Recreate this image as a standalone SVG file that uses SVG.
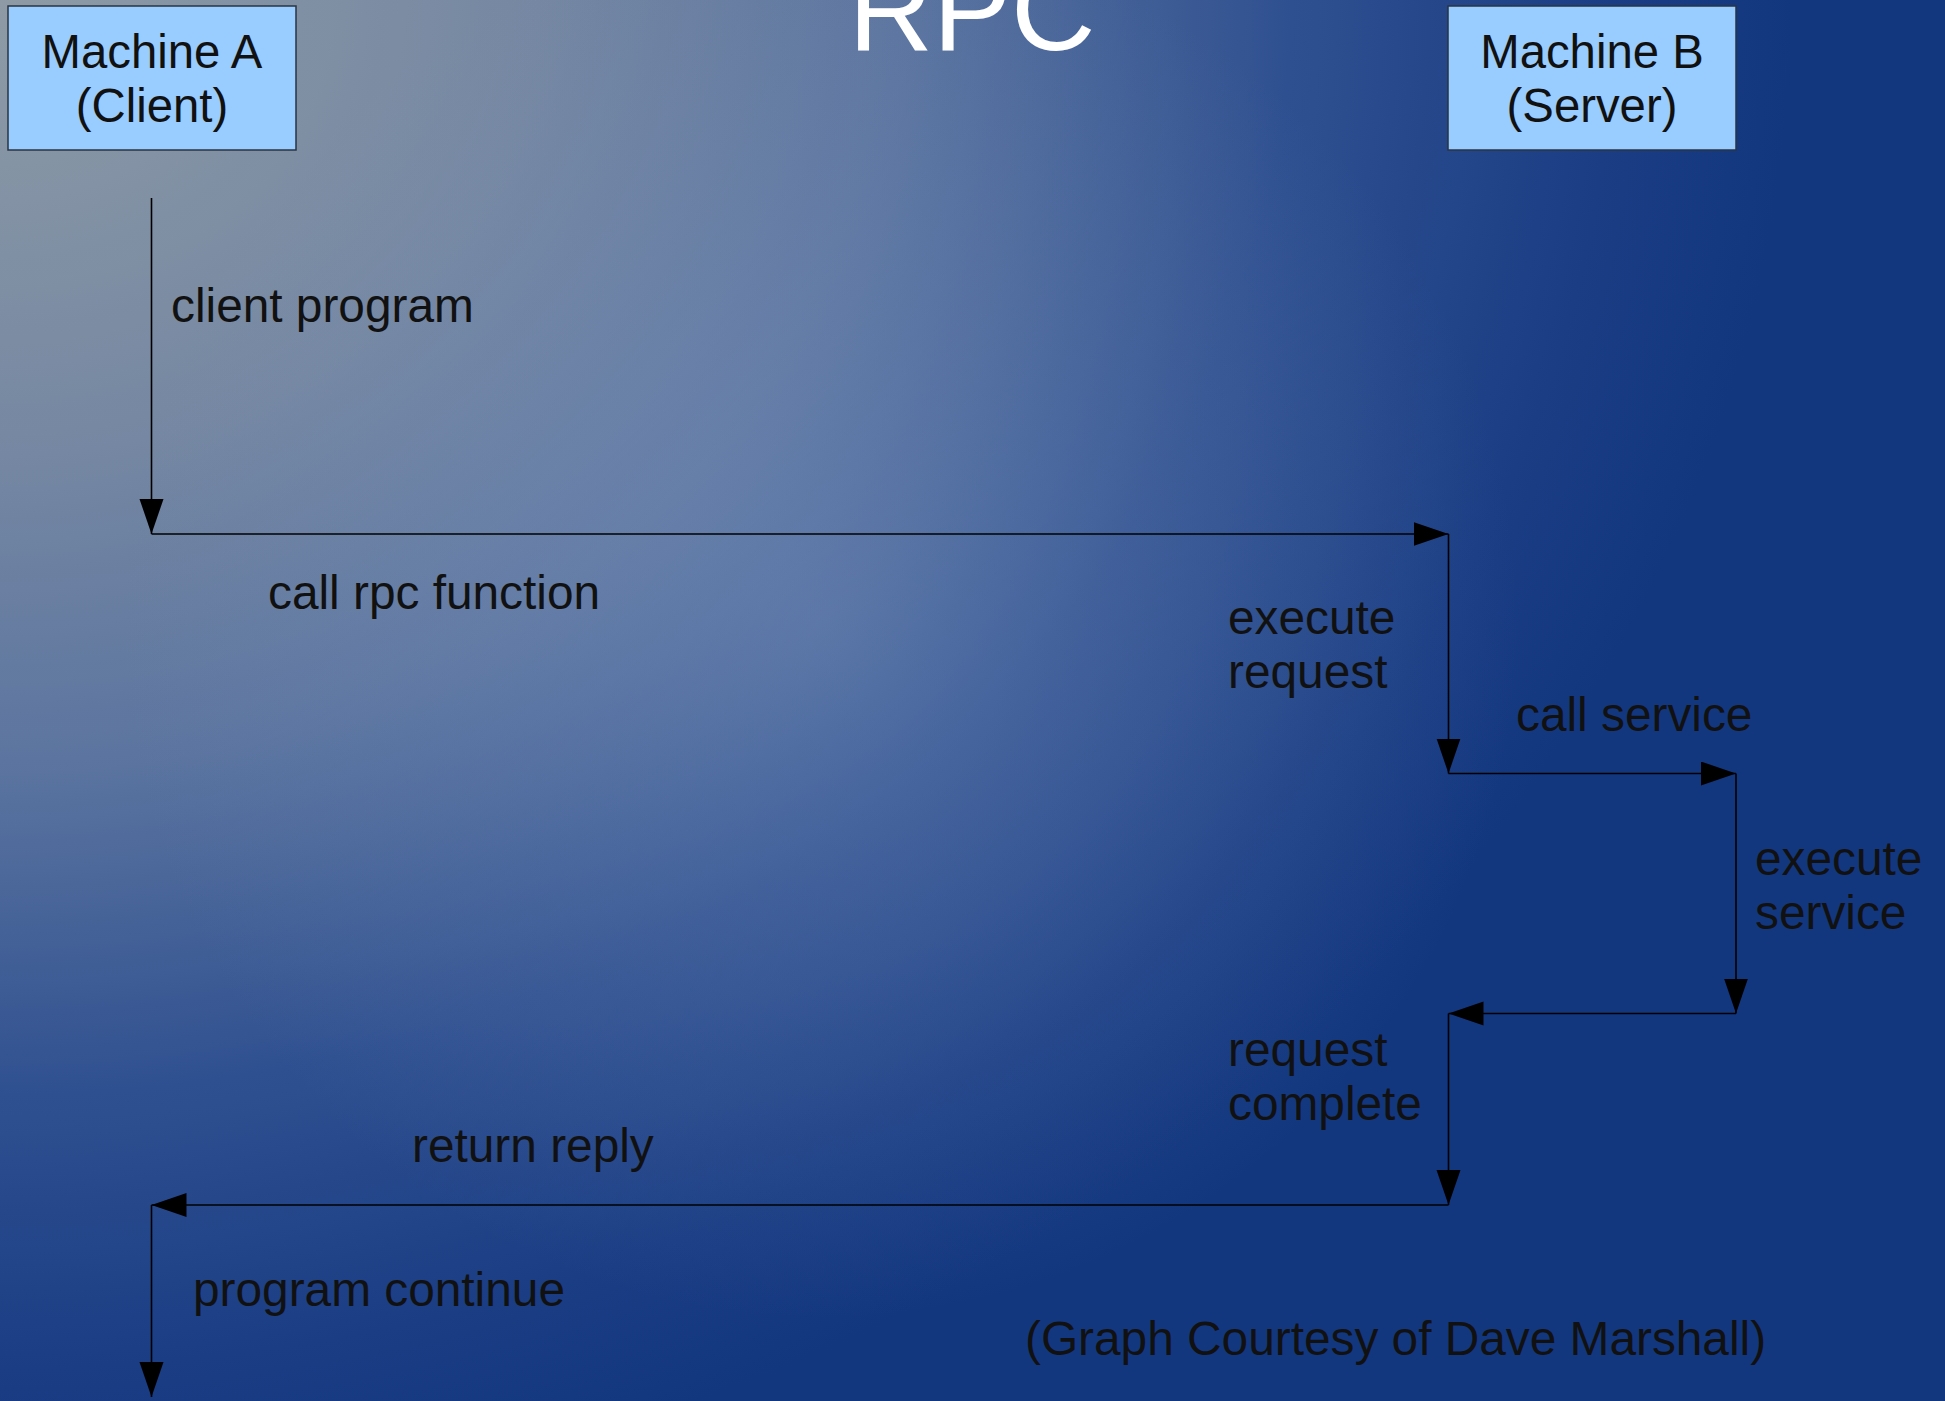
<svg xmlns="http://www.w3.org/2000/svg" width="1945" height="1401" viewBox="0 0 1945 1401">
<style>
.lbl{font-family:"Liberation Sans",Arial,sans-serif;font-size:47.8px;fill:#111111}
.nm{font-family:"Liberation Sans",Arial,sans-serif;font-size:47.3px;fill:#111111}
.box{fill:#99ccff;stroke:#2a3440;stroke-width:1.5}
.ln{fill:none;stroke:#000000;stroke-width:1.6}
.ttl{font-family:"Liberation Sans",Arial,sans-serif;font-size:117px;fill:#ffffff}
</style>
<defs>
<radialGradient id="bg" gradientUnits="userSpaceOnUse" cx="0" cy="0" r="1600" gradientTransform="scale(1.12 0.95)">
<stop offset="0" stop-color="#8e9ba6"/>
<stop offset="0.3" stop-color="#7587a2"/>
<stop offset="0.5" stop-color="#5c75a0"/>
<stop offset="0.72" stop-color="#2f5090"/>
<stop offset="0.9" stop-color="#1a3d84"/>
<stop offset="1" stop-color="#13377f"/>
</radialGradient>
<radialGradient id="glow" gradientUnits="userSpaceOnUse" cx="820" cy="620" r="700">
<stop offset="0" stop-color="#7f98c0" stop-opacity="0.4"/>
<stop offset="0.6" stop-color="#7f98c0" stop-opacity="0.15"/>
<stop offset="1" stop-color="#7f98c0" stop-opacity="0"/>
</radialGradient>
<marker id="ah" markerUnits="userSpaceOnUse" markerWidth="38" markerHeight="26" refX="35" refY="12" orient="auto">
<path d="M0,0 L35,12 L0,24 Z" fill="#000000"/>
</marker>
</defs>
<rect x="0" y="0" width="1945" height="1401" fill="url(#bg)"/>
<rect x="0" y="0" width="1945" height="1401" fill="url(#glow)"/>
<text class="ttl" x="972" y="50" text-anchor="middle">RPC</text>
<g id="machineA">
<rect class="box" x="8" y="6" width="288" height="144"/>
<text class="nm" x="152" y="68" text-anchor="middle">Machine A</text>
<text class="nm" x="152" y="122" text-anchor="middle">(Client)</text>
</g>
<g id="machineB">
<rect class="box" x="1448" y="6" width="288" height="144"/>
<text class="nm" x="1592" y="68" text-anchor="middle">Machine B</text>
<text class="nm" x="1592" y="122" text-anchor="middle">(Server)</text>
</g>
<g id="connectors">
<line class="ln" x1="151.5" y1="198" x2="151.5" y2="534" marker-end="url(#ah)"/>
<line class="ln" x1="151.5" y1="534" x2="1448.5" y2="534" marker-end="url(#ah)"/>
<line class="ln" x1="1448.5" y1="534" x2="1448.5" y2="773.5" marker-end="url(#ah)"/>
<line class="ln" x1="1448.5" y1="773.5" x2="1736" y2="773.5" marker-end="url(#ah)"/>
<line class="ln" x1="1736" y1="773.5" x2="1736" y2="1013.5" marker-end="url(#ah)"/>
<line class="ln" x1="1736" y1="1013.5" x2="1448.5" y2="1013.5" marker-end="url(#ah)"/>
<line class="ln" x1="1448.5" y1="1013.5" x2="1448.5" y2="1205" marker-end="url(#ah)"/>
<line class="ln" x1="1448.5" y1="1205" x2="151.5" y2="1205" marker-end="url(#ah)"/>
<line class="ln" x1="151.5" y1="1205" x2="151.5" y2="1397" marker-end="url(#ah)"/>
</g>
<g id="labels">
<text class="lbl" x="171" y="322">client program</text>
<text class="lbl" x="268" y="609">call rpc function</text>
<text class="lbl" x="1228" y="634">execute</text>
<text class="lbl" x="1228" y="688">request</text>
<text class="lbl" x="1516" y="731">call service</text>
<text class="lbl" x="1755" y="875">execute</text>
<text class="lbl" x="1755" y="929">service</text>
<text class="lbl" x="1228" y="1066">request</text>
<text class="lbl" x="1228" y="1120">complete</text>
<text class="lbl" x="412" y="1162">return reply</text>
<text class="lbl" x="193" y="1306">program continue</text>
<text class="lbl" x="1025" y="1355">(Graph Courtesy of Dave Marshall)</text>
</g>
</svg>
